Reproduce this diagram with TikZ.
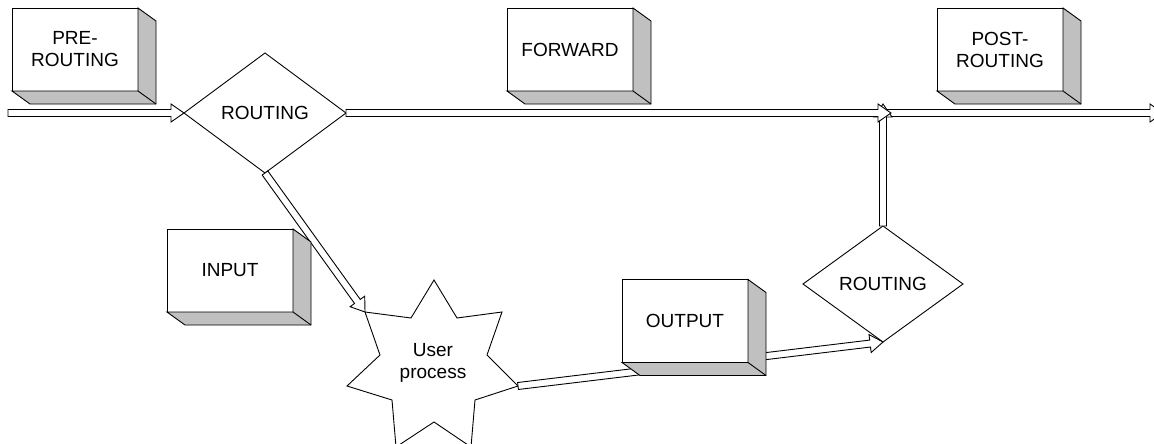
\documentclass[tikz,border=0pt]{standalone}
\usepackage{fontspec}
\setmainfont{Liberation Sans}
\usetikzlibrary{calc,shapes.geometric}
\definecolor{sidegray}{RGB}{192,192,192}
\tikzset{
  cubebox/.style={draw, fill=white, rectangle, minimum width=126pt, minimum height=83pt,
    inner sep=0pt, outer sep=0pt, align=center, font=\fontsize{19}{22}\selectfont},
  diabox/.style={draw, diamond, inner sep=0pt, outer sep=0pt, font=\fontsize{19}{22}\selectfont},
  dblbody/.style={draw, fill=white, line join=miter},
  cubeside/.style={draw, fill=sidegray, line join=miter},
  startext/.style={align=center, inner sep=0pt, font=\fontsize{19}{22}\selectfont}
}
\newcommand\dblarrow[2]{%
  \coordinate (ah) at ($(#2)!13pt!(#1)$);
  \filldraw[dblbody] ($(#1)!3.5pt!90:(#2)$) -- ($(ah)!3.5pt!-90:(#1)$) -- ($(ah)!9pt!-90:(#1)$)
    -- (#2) -- ($(ah)!9pt!90:(#1)$) -- ($(ah)!3.5pt!90:(#1)$) -- ($(#1)!3.5pt!-90:(#2)$) -- cycle;}
\newcommand\cubeshade[1]{%
  \filldraw[cubeside] (#1.north east) -- ++(18,13) -- ($(#1.south east)+(18,13)$)
    -- ($(#1.south west)+(18,13)$) -- (#1.south west) -- (#1.south east) -- cycle;
  \draw (#1.south east) -- ++(18,13);}
\begin{document}
\begin{tikzpicture}[x=1pt, y=-1pt, line width=0.9pt]
\useasboundingbox (0,0) rectangle (1154,444);
\clip (0,0) rectangle (1154,444);
\fill[white] (0,0) rectangle (1154,444);

% diamonds
\node[diabox, minimum width=162pt, minimum height=120pt] (r1) at (265,113) {ROUTING};
\node[diabox, minimum width=160pt, minimum height=116pt] (r2) at (883,284) {ROUTING};

% star
\coordinate (t1) at (434,280); \coordinate (i1) at (457,318);
\coordinate (t2) at (502,312); \coordinate (i2) at (487,355);
\coordinate (t3) at (518,386); \coordinate (i3) at (475,400);
\coordinate (t4) at (471,447); \coordinate (i4) at (434,422);
\coordinate (t5) at (396,447); \coordinate (i5) at (392,400);
\coordinate (t6) at (347,386); \coordinate (i6) at (380,355);
\coordinate (t7) at (365,312); \coordinate (i7) at (411,318);
\filldraw[fill=white, line join=miter] (t1) -- (i1) -- (t2) -- (i2) -- (t3) -- (i3) -- (t4) -- (i4)
  -- (t5) -- (i5) -- (t6) -- (i6) -- (t7) -- (i7) -- cycle;
\node[startext] (user) at (433,363) {User\\process};

% free ends
\coordinate (src) at (8,113);
\coordinate (junR) at (886,113);
\coordinate (outR) at (1163,113);
\coordinate (junIn) at (891,113);
\coordinate (junUp) at (883,104);

% arrows
\dblarrow{junR}{outR}
\dblarrow{r2.north}{junUp}
\dblarrow{src}{r1.west}
\dblarrow{r1.east}{junIn}
\dblarrow{r1.south}{t7}
\dblarrow{t3}{r2.south}

% boxes
\node[cubebox] (pre) at (75,49.5) {PRE-\\ROUTING};
\cubeshade{pre}
\node[cubebox] (fwd) at (570,49.5) {FORWARD};
\cubeshade{fwd}
\node[cubebox] (post) at (1000,49.5) {POST-\\ROUTING};
\cubeshade{post}
\node[cubebox] (inp) at (230,270.5) {INPUT};
\cubeshade{inp}
\node[cubebox] (outp) at (685,321) {OUTPUT};
\cubeshade{outp}
\end{tikzpicture}
\end{document}
